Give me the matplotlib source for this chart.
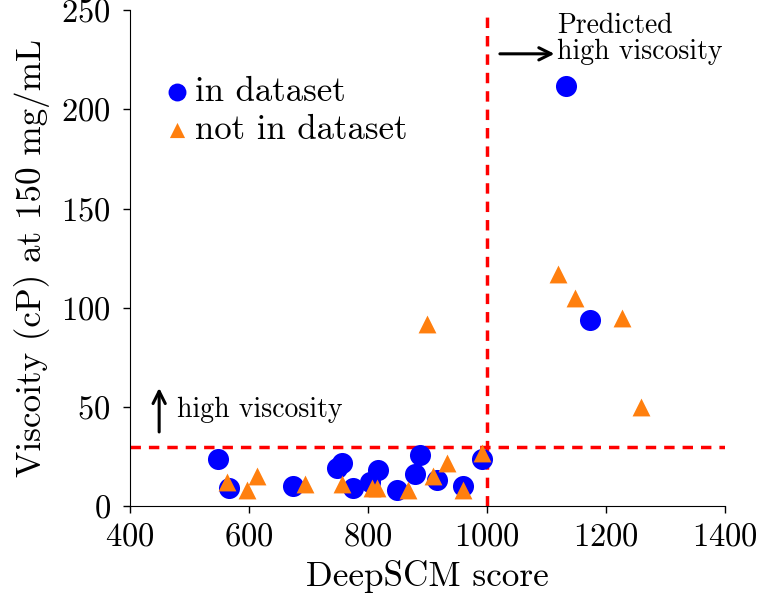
import matplotlib
matplotlib.use("Agg")
import matplotlib.pyplot as plt

plt.rcParams['font.family'] = 'serif'
plt.rcParams['font.serif'] = ['cmr10']
plt.rcParams['mathtext.fontset'] = 'cm'
plt.rcParams['axes.formatter.use_mathtext'] = True

in_x = [548, 566, 674, 748, 756, 775, 803, 817, 849, 879, 887, 916, 960, 992, 1133, 1173]
in_y = [24, 9, 10, 19, 22, 9, 12, 18, 8, 16, 26, 13, 10, 24, 212, 94]

out_x = [563, 597, 613, 694, 756, 807, 815, 867, 899, 909, 933, 960, 992, 1119, 1148, 1227, 1259]
out_y = [12, 8, 15, 11, 11, 9, 9, 8, 92, 15, 22, 8, 27, 117, 105, 95, 50]

thr_score = 1000
thr_visc = 30
xticks = [400, 600, 800, 1000, 1200, 1400]
yticks = [0, 50, 100, 150, 200, 250]

fig = plt.figure(figsize=(7.58, 5.99), dpi=100)
ax = fig.add_axes([0.1715, 0.155, 0.785, 0.828])

ax.scatter(in_x, in_y, s=230, marker='o', color='#0000ff', zorder=3, label='in dataset', linewidths=0)
ax.scatter(out_x, out_y, s=165, marker='^', color='#ff7f0e', zorder=4, label='not in dataset', linewidths=0)

ax.axhline(thr_visc, color='#ff0000', linestyle=(0, (3, 2.3)), lw=2.5, zorder=2)
ax.axvline(thr_score, color='#ff0000', linestyle=(0, (3, 2.3)), lw=2.5, zorder=2)

ax.set_xlim(400, 1400)
ax.set_ylim(0, 250)
ax.set_xticks(xticks)
ax.set_yticks(yticks)
ax.tick_params(labelsize=23.5, direction='out', length=5, width=1)
ax.tick_params(axis='x', pad=7)
ax.tick_params(axis='y', pad=9)
ax.spines['top'].set_visible(False)
ax.spines['right'].set_visible(False)
ax.set_xlabel('DeepSCM score', fontsize=25.3, labelpad=6)
ax.set_ylabel('Viscoity (cP) at 150 mg/mL', fontsize=25.3, labelpad=8)

leg = ax.legend(loc='upper left', bbox_to_anchor=(0.021, 0.895), frameon=False, fontsize=25,
                handletextpad=-0.1, labelspacing=0.2, borderaxespad=0, markerscale=0.85,
                handlelength=1.2)

ax.annotate('', xy=(449, 61), xytext=(449, 36),
            arrowprops=dict(arrowstyle='->', lw=2.2, color='black', mutation_scale=22))
ax.text(479, 48.7, 'high viscosity', fontsize=20, va='center', ha='left')

ax.annotate('', xy=(1118, 228), xytext=(1017, 228),
            arrowprops=dict(arrowstyle='->', lw=2.2, color='black', mutation_scale=22))
ax.text(1118, 235.5, 'Predicted\nhigh viscosity', fontsize=20, va='center', ha='left', linespacing=1.0)

fig.savefig('out.png', dpi=100)
